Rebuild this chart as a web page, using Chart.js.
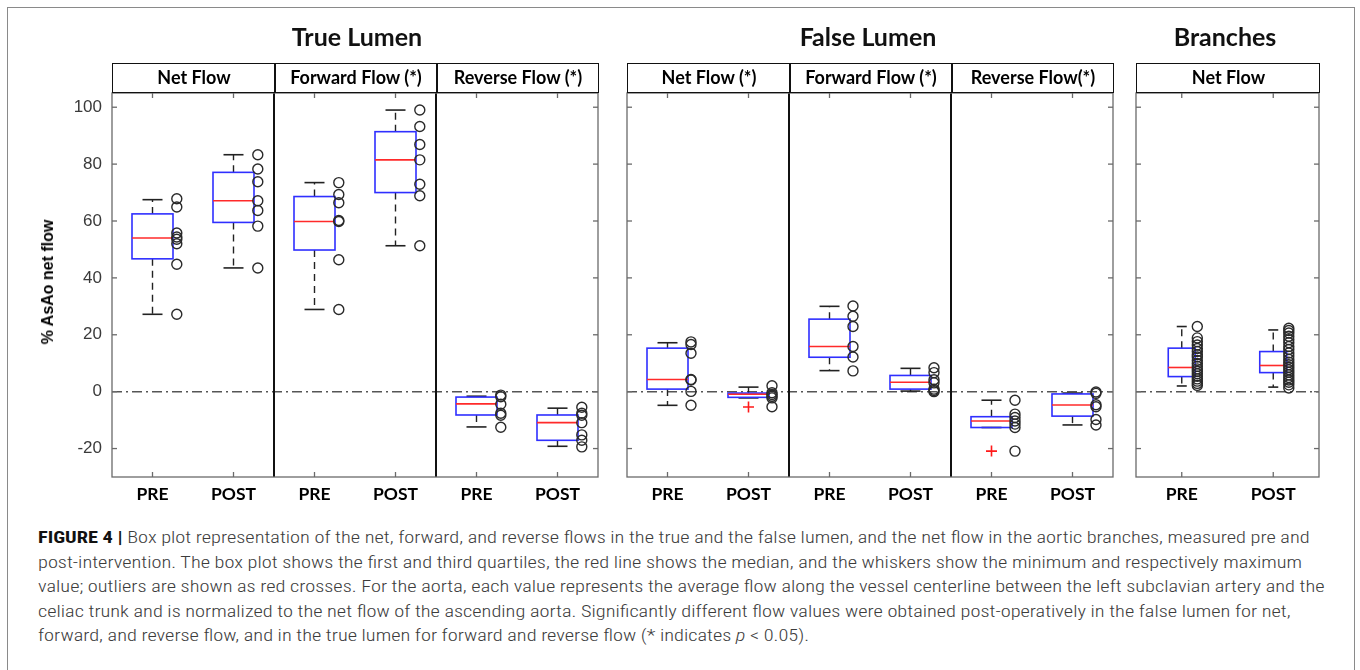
<!DOCTYPE html>
<html>
<head>
<meta charset="utf-8">
<script src="https://cdn.jsdelivr.net/npm/chart.js@4.4.1/dist/chart.umd.min.js"></script>
<style>
  html, body { margin: 0; padding: 0; background: #fff; }
  #fig { position: relative; width: 1360px; height: 670px; overflow: hidden; font-family: Lato, "Open Sans", sans-serif; }
  #frame { position: absolute; left: 7px; top: 7px; width: 1348px; height: 700px; border: 1.5px solid #8a8a8a; box-sizing: border-box; }
  canvas { position: absolute; top: 0; }
  .title { position: absolute; top: 21px; font-weight: 700; font-size: 25px; color: #111; transform: translateX(-50%); white-space: nowrap; }
  .hdr { position: absolute; top: 63px; height: 30px; border: 1.5px solid #111; box-sizing: border-box; }
  .hdr div { position: absolute; top: 0; height: 100%; box-sizing: border-box; text-align: center; font-weight: 700; font-size: 18px; line-height: 27px; color: #000; white-space: nowrap; }
  .hdr div + div { border-left: 2px solid #111; }
  #ytitle { position: absolute; left: 48px; top: 282px; transform: translate(-50%, -50%) rotate(-90deg); font-family: "Liberation Sans", Arial, sans-serif; font-weight: 700; font-size: 16px; color: #000; white-space: nowrap; }
  #caption { position: absolute; left: 38px; top: 526px; transform-origin: 0 0; font-family: "Liberation Sans Narrow", "Roboto Condensed", Roboto, sans-serif; font-weight: 300; font-size: 16.5px; line-height: 24.6px; color: #3c3c3c; white-space: nowrap; }
  #caption b { color: #111; font-weight: 700; }
</style>
</head>
<body>
<div id="fig">
  <div id="frame"></div>
  <canvas id="tl" width="612" height="515" style="left:0px"></canvas>
  <canvas id="fl" width="510" height="515" style="left:615px"></canvas>
  <canvas id="br" width="205" height="515" style="left:1125px"></canvas>
  <div class="title" style="left:357px">True Lumen</div>
  <div class="title" style="left:868px">False Lumen</div>
  <div class="title" style="left:1225px">Branches</div>
  <div id="ytitle">% AsAo net flow</div>
  <div id="caption">
    <div id="capline1"><b>FIGURE 4 |</b> Box plot representation of the net, forward, and reverse flows in the true and the false lumen, and the net flow in the aortic branches, measured pre and</div>
    <div>post-intervention. The box plot shows the first and third quartiles, the red line shows the median, and the whiskers show the minimum and respectively maximum</div>
    <div>value; outliers are shown as red crosses. For the aorta, each value represents the average flow along the vessel centerline between the left subclavian artery and the</div>
    <div>celiac trunk and is normalized to the net flow of the ascending aorta. Significantly different flow values were obtained post-operatively in the false lumen for net,</div>
    <div>forward, and reverse flow, and in the true lumen for forward and reverse flow (* indicates <i>p</i> &lt; 0.05).</div>
  </div>
</div>
<script>
const xLabels = ["PRE", "POST"];
const yTicks = [-20, 0, 20, 40, 60, 80, 100];

// True Lumen: net PRE/POST, forward PRE/POST, reverse PRE/POST
const tlHeaders = ["Net Flow", "Forward Flow (*)", "Reverse Flow (*)"];
const tlLow    = [27.2, 43.5, 28.9, 51.3, -12.4, -19.2];
const tlQ1     = [46.7, 59.5, 49.8, 70.0, -8.2, -17.1];
const tlMedian = [54.0, 67.1, 59.8, 81.5, -4.3, -10.9];
const tlQ3     = [62.5, 77.1, 68.6, 91.4, -1.9, -8.2];
const tlHigh   = [67.5, 83.3, 73.5, 99.0, -1.6, -5.8];
const tlPoints = [
  [67.8, 64.9, 55.8, 54.4, 53.6, 52.0, 44.8, 27.2],
  [83.3, 78.3, 73.8, 67.1, 63.7, 58.2, 43.5],
  [73.5, 69.3, 66.4, 60.2, 59.8, 46.4, 28.9],
  [99.0, 93.2, 86.9, 81.5, 72.9, 68.9, 51.3],
  [-1.2, -1.8, -4.4, -7.6, -8.3, -12.5],
  [-5.5, -7.6, -8.3, -10.9, -15.2, -17.1, -19.4]
];
const tlOutliers = [[], [], [], [], [], []];

// False Lumen
const flHeaders = ["Net Flow (*)", "Forward Flow (*)", "Reverse Flow(*)"];
const flLow    = [-4.8, -2.2, 7.4, 0.2, -12.6, -11.7];
const flQ1     = [0.9, -2.0, 12.1, 0.9, -12.6, -8.6];
const flMedian = [4.3, -0.9, 15.9, 3.3, -10.3, -4.7];
const flQ3     = [15.3, -0.5, 25.5, 5.7, -8.8, -0.8];
const flHigh   = [17.2, 1.6, 30.0, 8.2, -3.0, -0.5];
const flPoints = [
  [17.5, 16.6, 13.5, 4.3, 4.1, 0.1, -4.8],
  [2.1, -0.4, -1.0, -1.6, -2.2, -5.3],
  [30.1, 26.5, 22.9, 15.9, 12.2, 7.3],
  [8.4, 6.7, 4.2, 3.1, 0.9, 0.4, 0.0],
  [-3.0, -7.9, -9.1, -10.3, -11.4, -12.6, -20.9],
  [-0.1, -0.6, -4.6, -5.3, -9.8, -11.7]
];
const flOutliers = [[], [-5.4], [], [], [-20.9], []];

// Branches
const brHeaders = ["Net Flow"];
const brLow    = [2.0, 1.6];
const brQ1     = [5.3, 6.7];
const brMedian = [8.5, 9.2];
const brQ3     = [15.3, 14.1];
const brHigh   = [22.9, 21.7];
const brPoints = [
  [22.9, 18.9, 17.6, 16.4, 15.2, 14.1, 13.0, 12.2, 11.0, 9.9, 8.9, 8.0, 7.2, 6.3, 5.4, 4.5, 3.7, 2.9, 2.2],
  [22.3, 21.5, 20.6, 19.5, 18.3, 17.2, 15.9, 14.8, 13.6, 12.5, 11.4, 10.4, 9.5, 8.6, 7.7, 6.8, 5.9, 5.0, 4.1, 3.3, 2.4, 1.3]
];
const brOutliers = [[], []];

function line(ctx, x1, y1, x2, y2) {
  ctx.beginPath();
  ctx.moveTo(x1, y1);
  ctx.lineTo(x2, y2);
  ctx.stroke();
}

// MATLAB-style box plot, drawn through the chart's own scales
const boxPlugin = {
  id: "boxes",
  beforeDatasetsDraw(chart, args, opts) {
    const { ctx, chartArea: a, scales: { x, y } } = chart;
    ctx.save();

    // zero reference line
    ctx.strokeStyle = "#555";
    ctx.lineWidth = 1.5;
    ctx.setLineDash([10, 4, 2, 4]);
    const y0 = y.getPixelForValue(0);
    line(ctx, a.left, y0, a.right, y0);

    // panel separators
    ctx.setLineDash([]);
    ctx.strokeStyle = "#111";
    ctx.lineWidth = 2;
    opts.separators.forEach((v) => {
      const px = x.getPixelForValue(v);
      line(ctx, px, a.top, px, a.bottom);
    });

    const s = opts.stats;
    s.median.forEach((m, i) => {
      const cx = x.getPixelForValue(i + 1);
      const pLow = y.getPixelForValue(s.low[i]);
      const pQ1 = y.getPixelForValue(s.q1[i]);
      const pMed = y.getPixelForValue(m);
      const pQ3 = y.getPixelForValue(s.q3[i]);
      const pHigh = y.getPixelForValue(s.high[i]);

      // whiskers
      ctx.strokeStyle = "#222";
      ctx.lineWidth = 1.4;
      ctx.setLineDash([7, 5]);
      line(ctx, cx, pQ3, cx, pHigh);
      line(ctx, cx, pQ1, cx, pLow);
      ctx.setLineDash([]);
      ctx.lineWidth = 1.6;
      line(ctx, cx - opts.capHalf, pHigh, cx + opts.capHalf, pHigh);
      line(ctx, cx - opts.capHalf, pLow, cx + opts.capHalf, pLow);

      // box
      ctx.strokeStyle = "#2f2fff";
      ctx.lineWidth = 1.6;
      ctx.strokeRect(cx - opts.boxHalf, pQ3, opts.boxHalf * 2, pQ1 - pQ3);

      // median
      ctx.strokeStyle = "#ff2a2a";
      ctx.lineWidth = 1.6;
      line(ctx, cx - opts.boxHalf, pMed, cx + opts.boxHalf, pMed);
    });
    ctx.restore();
  },
  afterDraw(chart) {
    const { ctx, chartArea: a, scales: { x, y } } = chart;
    ctx.save();
    ctx.strokeStyle = "#6a6a6a";
    ctx.lineWidth = 1.3;
    ctx.strokeRect(a.left, a.top, a.right - a.left, a.bottom - a.top);
    const t = 5;
    x.ticks.forEach((tk) => {
      const px = x.getPixelForValue(tk.value);
      line(ctx, px, a.top, px, a.top + t);
      line(ctx, px, a.bottom, px, a.bottom - t);
    });
    y.ticks.forEach((tk) => {
      const py = y.getPixelForValue(tk.value);
      line(ctx, a.left, py, a.left + t, py);
      line(ctx, a.right, py, a.right - t, py);
    });
    ctx.restore();
  },
};

function makeBoxChart(canvas, cfg) {
  const n = cfg.points.length;
  const pts = [];
  cfg.points.forEach((vals, i) => vals.forEach((v) => pts.push({ x: i + 1 + cfg.pointOffset, y: v })));
  const outs = [];
  cfg.outliers.forEach((vals, i) => vals.forEach((v) => outs.push({ x: i + 1, y: v })));

  return new Chart(canvas, {
    type: "scatter",
    data: {
      datasets: [
        {
          data: pts,
          pointStyle: "circle",
          pointRadius: 5,
          pointBorderWidth: 1.4,
          borderColor: "#2a2a2a",
          backgroundColor: "rgba(0,0,0,0)",
        },
        {
          data: outs,
          pointStyle: "cross",
          pointRadius: 5.5,
          pointBorderWidth: 1.6,
          borderColor: "#ff1a1a",
          backgroundColor: "#ff1a1a",
        },
      ],
    },
    options: {
      responsive: false,
      animation: false,
      devicePixelRatio: 1,
      events: [],
      layout: { padding: { top: 93, left: cfg.padLeft, right: cfg.padRight, bottom: 0 } },
      scales: {
        x: {
          type: "linear",
          min: 0.5,
          max: n + 0.5,
          grid: { display: false, drawTicks: false },
          border: { display: false },
          afterBuildTicks: (s) => {
            s.ticks = cfg.points.map((p, i) => ({ value: i + 1 }));
          },
          afterFit: (s) => { s.height = 38; },
          ticks: {
            autoSkip: false,
            maxRotation: 0,
            padding: 7,
            color: "#000",
            font: { family: "Lato", weight: "bold", size: 17.5 },
            callback: (v) => xLabels[(v - 1) % 2],
          },
        },
        y: {
          type: "linear",
          min: -30,
          max: 105,
          display: cfg.showY,
          grid: { display: false, drawTicks: false },
          border: { display: false },
          afterBuildTicks: (s) => {
            s.ticks = yTicks.map((v) => ({ value: v }));
          },
          afterFit: (s) => { s.width = cfg.showY ? 112 : 0; },
          ticks: {
            padding: 10,
            color: "#3a3a3a",
            font: { family: "Liberation Sans", size: 17 },
          },
        },
      },
      plugins: {
        legend: { display: false },
        tooltip: { enabled: false },
        boxes: {
          stats: cfg.stats,
          separators: cfg.separators,
          boxHalf: cfg.boxHalf,
          capHalf: cfg.capHalf,
        },
      },
    },
    plugins: [boxPlugin],
  });
}

function buildHeader(chart, canvas, labels) {
  const a = chart.chartArea;
  const x = chart.scales.x;
  const left = canvas.offsetLeft;
  const box = document.createElement("div");
  box.className = "hdr";
  box.style.left = left + a.left + "px";
  box.style.width = a.right - a.left + 1 + "px";
  const per = (x.max - x.min) / labels.length;
  labels.forEach((txt, i) => {
    const x0 = x.getPixelForValue(x.min + per * i) - a.left;
    const x1 = x.getPixelForValue(x.min + per * (i + 1)) - a.left;
    const cell = document.createElement("div");
    cell.style.left = x0 - (i ? 1 : 0) + "px";
    cell.style.width = x1 - x0 + "px";
    cell.textContent = txt;
    box.appendChild(cell);
  });
  document.getElementById("fig").appendChild(box);
}

function fitCaption() {
  const cap = document.getElementById("caption");
  const l1 = document.getElementById("capline1");
  const w = l1.scrollWidth;
  if (w > 0) cap.style.transform = "scaleX(" + 1287 / w + ")";
}

function init() {
  const tlCanvas = document.getElementById("tl");
  const flCanvas = document.getElementById("fl");
  const brCanvas = document.getElementById("br");

  const tl = makeBoxChart(tlCanvas, {
    points: tlPoints, outliers: tlOutliers,
    stats: { low: tlLow, q1: tlQ1, median: tlMedian, q3: tlQ3, high: tlHigh },
    separators: [2.5, 4.5], pointOffset: 0.3, boxHalf: 20.5, capHalf: 10,
    padLeft: 0, padRight: 14, showY: true,
  });
  const fl = makeBoxChart(flCanvas, {
    points: flPoints, outliers: flOutliers,
    stats: { low: flLow, q1: flQ1, median: flMedian, q3: flQ3, high: flHigh },
    separators: [2.5, 4.5], pointOffset: 0.29, boxHalf: 20.5, capHalf: 10,
    padLeft: 12, padRight: 12, showY: false,
  });
  const br = makeBoxChart(brCanvas, {
    points: brPoints, outliers: brOutliers,
    stats: { low: brLow, q1: brQ1, median: brMedian, q3: brQ3, high: brHigh },
    separators: [], pointOffset: 0.17, boxHalf: 13.5, capHalf: 5,
    padLeft: 11, padRight: 11, showY: false,
  });

  buildHeader(tl, tlCanvas, tlHeaders);
  buildHeader(fl, flCanvas, flHeaders);
  buildHeader(br, brCanvas, brHeaders);
  fitCaption();
}

if (document.fonts && document.fonts.ready) {
  document.fonts.ready.then(init);
} else {
  window.addEventListener("load", init);
}
</script>
</body>
</html>
